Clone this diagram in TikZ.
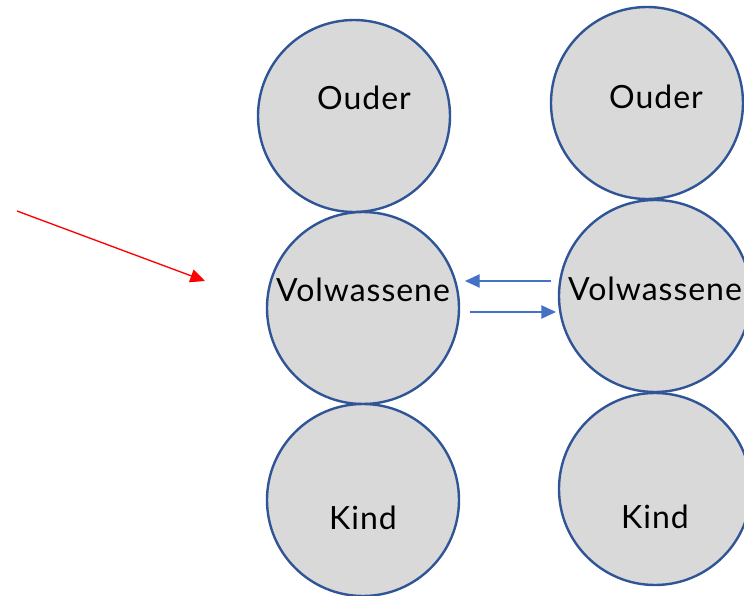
\documentclass[tikz,border=0pt]{standalone}
\usepackage{fontspec}
\setmainfont{Lato}[LetterSpace=3]
\usetikzlibrary{arrows.meta}
\definecolor{ringblue}{HTML}{2F5597}
\definecolor{ringfill}{HTML}{D9D9D9}
\definecolor{arrowblue}{HTML}{4472C4}
\tikzset{
  person/.style={circle, draw=ringblue, fill=ringfill, line width=1.8pt, minimum size=144pt, inner sep=0pt},
  lbl/.style={font=\fontsize{24}{27}\selectfont, inner sep=0pt, anchor=center},
  barrow/.style={draw=arrowblue, line width=1pt, -{Triangle[length=11pt,width=10pt]}},
  rarrow/.style={draw=red, line width=1pt, -{Triangle[length=11pt,width=10pt]}}
}
\begin{document}
\begin{tikzpicture}[x=0.75pt,y=-0.75pt]
\useasboundingbox (0,0) rectangle (744,596);
% left column
\node[person] (lo) at (354,116) {};
\node[person] (lv) at (363,308) {};
\node[person] (lk) at (363,500) {};
% right column
\node[person] (ro) at (647,103) {};
\node[person] (rv) at (655,296) {};
\node[person] (rk) at (655,489) {};
% labels
\node[lbl] (tlo) at (364,98) {Ouder};
\node[lbl] (tlv) at (363,290) {Volwassene};
\node[lbl] (tlk) at (363,518) {Kind};
\node[lbl] (tro) at (656,97) {Ouder};
\node[lbl] (trv) at (655,289) {Volwassene};
\node[lbl] (trk) at (655,517) {Kind};
% arrows between the two Volwassene nodes
\coordinate (a1s) at (551,281);
\coordinate (a1e) at (465,281);
\coordinate (a2s) at (470,312);
\coordinate (a2e) at (556,312);
\draw[barrow] (a1s) -- (a1e);
\draw[barrow] (a2s) -- (a2e);
% red arrow
\coordinate (rs) at (17,211);
\coordinate (re) at (205,281);
\draw[rarrow] (rs) -- (re);
\end{tikzpicture}
\end{document}
